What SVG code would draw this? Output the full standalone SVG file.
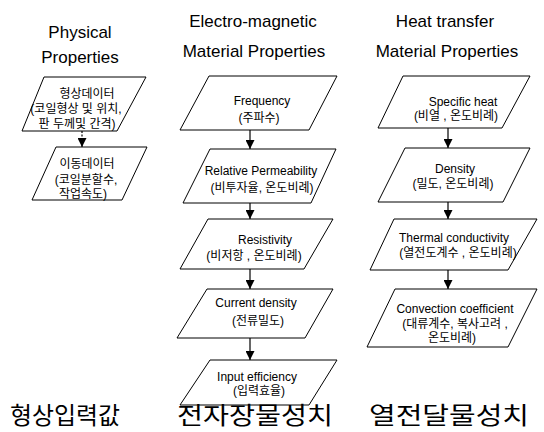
<svg xmlns="http://www.w3.org/2000/svg" width="544" height="432" viewBox="0 0 544 432">
<style>
.t{font-family:"Liberation Sans","Noto Sans CJK KR",sans-serif;font-size:12px;text-anchor:middle;fill:#000}
.h{font-size:17px}
.b{font-family:"Noto Sans CJK KR",sans-serif;font-size:24px;text-anchor:start}
.box{fill:#fff;stroke:#000;stroke-width:1}
.con{stroke:#000;stroke-width:1.2;fill:none;marker-end:url(#ah)}
</style>
<defs>
<marker id="ah" markerUnits="userSpaceOnUse" markerWidth="9" markerHeight="9" refX="9" refY="4.5" orient="auto">
<path d="M0,0 L9,4.5 L0,9 z" fill="#000"/>
</marker>
</defs>
<rect width="544" height="432" fill="#fff"/>
<g id="titles">
<text class="t h" x="80" y="38">Physical</text>
<text class="t h" x="80" y="63">Properties</text>
<text class="t h" x="253" y="27">Electro-magnetic</text>
<text class="t h" x="254" y="57">Material Properties</text>
<text class="t h" x="445" y="27">Heat transfer</text>
<text class="t h" x="447" y="57">Material Properties</text>
</g>
<g id="connectors">
<line class="con" x1="82" y1="131" x2="82" y2="147" stroke-dasharray="2,1.5"/>
<line class="con" x1="250" y1="130" x2="250" y2="149"/>
<line class="con" x1="250" y1="203" x2="250" y2="219"/>
<line class="con" x1="250" y1="269" x2="250" y2="289"/>
<line class="con" x1="250" y1="338" x2="250" y2="360"/>
<line class="con" x1="448" y1="128" x2="448" y2="148"/>
<line class="con" x1="448" y1="202" x2="448" y2="219"/>
<line class="con" x1="448" y1="270" x2="448" y2="289"/>
</g>
<g id="shape-data">
<polygon class="box" points="44,77 146,77 117,131 22,131"/>
<text class="t" x="87" y="98">형상데이터</text>
<text class="t" x="76" y="113">(코일형상 및 위치,</text>
<text class="t" x="77" y="128">판 두께및 간격)</text>
</g>
<g id="motion-data">
<polygon class="box" points="56,147 147,147 122,200 32,200"/>
<text class="t" x="87" y="168">이동데이터</text>
<text class="t" x="86" y="184">(코일분할수,</text>
<text class="t" x="83" y="198">작업속도)</text>
</g>
<g id="frequency">
<polygon class="box" points="209,76 337,76 309,130 180,130"/>
<text class="t" x="262" y="105">Frequency</text>
<text class="t" x="259" y="122">(주파수)</text>
</g>
<g id="permeability">
<polygon class="box" points="210,149 336,149 311,203 183,203"/>
<text class="t" x="261" y="175">Relative Permeability</text>
<text class="t" x="262" y="192">(비투자율, 온도비례)</text>
</g>
<g id="resistivity">
<polygon class="box" points="208,219 333,219 304,269 180,269"/>
<text class="t" x="265" y="244">Resistivity</text>
<text class="t" x="254" y="260">(비저항 , 온도비례)</text>
</g>
<g id="current-density">
<polygon class="box" points="207,289 333,289 305,338 177,338"/>
<text class="t" x="256" y="307">Current density</text>
<text class="t" x="258" y="325">(전류밀도)</text>
</g>
<g id="input-efficiency">
<polygon class="box" points="210,360 337,360 309,405 180,405"/>
<text class="t" x="257" y="381">Input efficiency</text>
<text class="t" x="259" y="395">(입력효율)</text>
</g>
<g id="specific-heat">
<polygon class="box" points="403,76 530,76 502,128 378,128"/>
<text class="t" x="463" y="106">Specific heat</text>
<text class="t" x="456" y="120">(비열 , 온도비례)</text>
</g>
<g id="density">
<polygon class="box" points="405,148 530,148 503,202 378,202"/>
<text class="t" x="455" y="173">Density</text>
<text class="t" x="453" y="188">(밀도, 온도비례)</text>
</g>
<g id="thermal-conductivity">
<polygon class="box" points="394,219 537,219 508,270 370,270"/>
<text class="t" x="454" y="242">Thermal conductivity</text>
<text class="t" x="458" y="257">(열전도계수 , 온도비례)</text>
</g>
<g id="convection">
<polygon class="box" points="395,289 537,289 508,347 367,347"/>
<text class="t" x="455" y="313">Convection coefficient</text>
<text class="t" x="455" y="328">(대류계수, 복사고려 ,</text>
<text class="t" x="452" y="342">온도비례)</text>
</g>
<g id="labels">
<text class="b" x="10" y="424" textLength="110" lengthAdjust="spacingAndGlyphs">형상입력값</text>
<text class="b" x="177" y="424" textLength="156" lengthAdjust="spacingAndGlyphs">전자장물성치</text>
<text class="b" x="369" y="424" textLength="160" lengthAdjust="spacingAndGlyphs">열전달물성치</text>
</g>
</svg>
